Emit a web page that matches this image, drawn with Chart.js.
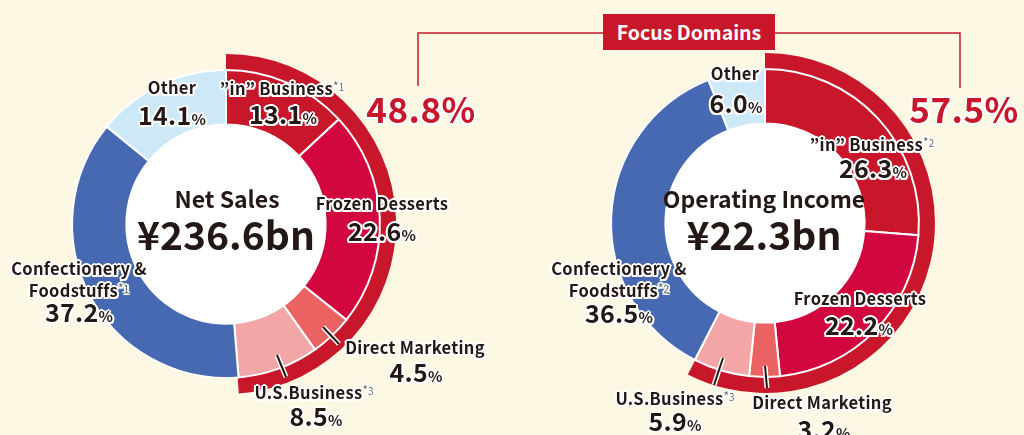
<!DOCTYPE html>
<html>
<head>
<meta charset="utf-8">
<script src="https://cdn.jsdelivr.net/npm/chart.js@4.4.1/dist/chart.umd.min.js"></script>
<style>
  html, body { margin: 0; padding: 0; }
  body { width: 1024px; height: 435px; overflow: hidden; background: #fdf8e3; }
  #stage { position: relative; width: 1024px; height: 435px; font-family: "Noto Sans CJK JP", "Noto Sans", sans-serif; color: #231815; }
  canvas { position: absolute; }
  #salesChart { left: 56px; top: 54px; }
  #incomeChart { left: 595px; top: 53px; }
  svg { position: absolute; left: 0; top: 0; }
  .lbl { position: absolute; white-space: nowrap; text-align: center; font-weight: 700; transform: translateX(-50%);
         letter-spacing: 0.3px;
         text-shadow: 0 0 2px #fff, 2px 0 0 #fff, -2px 0 0 #fff, 0 2px 0 #fff, 0 -2px 0 #fff,
                      1.5px 1.5px 0 #fff, -1.5px 1.5px 0 #fff, 1.5px -1.5px 0 #fff, -1.5px -1.5px 0 #fff; }
  .pct { font-size: 15px; letter-spacing: 0; }
  .note { font-size: 12px; font-weight: 400; color: #666; vertical-align: 4px; letter-spacing: 0; }
  .note small { font-size: 10px; }
  .center { position: absolute; white-space: nowrap; font-weight: 700; transform: translateX(-50%); }
  .focus-box { position: absolute; left: 603px; top: 14px; width: 172px; height: 36px; background: #c8172b;
               color: #fff; font-weight: 700; font-size: 19.5px; line-height: 36px; text-align: center; }
  .focus-pct { color: #c8172b; letter-spacing: 0.5px; }
</style>
</head>
<body>
<div id="stage">
  <canvas id="salesChart" width="340" height="340"></canvas>
  <canvas id="incomeChart" width="340" height="340"></canvas>
  <svg width="1024" height="435">
    <polyline points="418,86 418,33 603,33" fill="none" stroke="#c8172b" stroke-width="1.5"/>
    <polyline points="775,33 960,33 960,88" fill="none" stroke="#c8172b" stroke-width="1.5"/>
  </svg>
  <div class="focus-box">Focus Domains</div>
</div>
<script>
// data
const segmentNames = ['”in” Business', 'Frozen Desserts', 'Direct Marketing', 'U.S.Business', 'Confectionery & Foodstuffs', 'Other'];
const netSalesShare = [13.1, 22.6, 4.5, 8.5, 37.2, 14.1];
const operatingIncomeShare = [26.3, 22.2, 3.2, 5.9, 36.5, 6.0];
const salesNotes = ['1', '', '', '3', '1', ''];
const incomeNotes = ['2', '', '', '3', '2', ''];
const focusSales = 48.8;
const focusIncome = 57.5;
const chartTitles = ['Net Sales', 'Operating Income'];
const chartTotals = ['¥236.6bn', '¥22.3bn'];

// styles
const segmentColors = ['#c8162b', '#d3073f', '#ea6261', '#f2a6a7', '#4669b2', '#cde9f8'];
const focusRed = '#c8172b';

// label placement: [name cx, name glyph top, value cx, value glyph top]
const salesLabelPos = [
  [282, 81, 283, 106],
  [382, 198, 382, 223],
  [415, 342, 416, 364],
  [314, 385, 316, 408],
  [79, 263, 79, 304],
  [172, 82, 172, 107]
];
const incomeLabelPos = [
  [872, 137, 873, 160],
  [860, 293, 859, 317],
  [822, 397, 824, 421],
  [675, 391, 675, 413],
  [619, 263, 619, 305],
  [735, 68, 736, 95]
];

const stage = document.getElementById('stage');
const TOP_OFFSET = 0.2;

function addDiv(cls, html, cx, glyphTop, size, lineH) {
  const d = document.createElement('div');
  d.className = cls;
  d.innerHTML = html;
  d.style.left = cx + 'px';
  d.style.fontSize = size + 'px';
  d.style.lineHeight = (lineH || size) + 'px';
  d.style.top = (glyphTop - TOP_OFFSET * size - ((lineH || size) - size) / 2) + 'px';
  stage.appendChild(d);
  return d;
}

function addLabels(values, notes, pos) {
  values.forEach((v, i) => {
    let name = segmentNames[i];
    if (name.indexOf('& ') > 0) name = name.replace('& ', '&amp;<br>');
    if (notes[i]) name += '<span class="note">*<small>' + notes[i] + '</small></span>';
    const p = pos[i];
    addDiv('lbl', name, p[0], p[1], 16.5, 20);
    addDiv('lbl', v.toFixed(1) + '<span class="pct">%</span>', p[2], p[3], 25);
  });
}

// white hole in the middle of each donut
const whiteCenter = {
  id: 'whiteCenter',
  beforeDatasetsDraw(chart) {
    const arc = chart.getDatasetMeta(1).data[0];
    const ctx = chart.ctx;
    ctx.save();
    ctx.fillStyle = '#ffffff';
    ctx.beginPath();
    ctx.arc(arc.x, arc.y, arc.innerRadius, 0, Math.PI * 2);
    ctx.fill();
    ctx.restore();
  }
};

function makeDonut(id, shares, focus) {
  return new Chart(document.getElementById(id), {
    type: 'doughnut',
    data: {
      labels: segmentNames,
      datasets: [
        {
          data: [focus, 100 - focus],
          backgroundColor: [focusRed, 'rgba(0,0,0,0)'],
          borderWidth: 0,
          weight: 16,
          order: 1
        },
        {
          data: shares,
          backgroundColor: segmentColors,
          borderColor: '#ffffff',
          borderWidth: 2,
          weight: 54,
          order: 0
        }
      ]
    },
    options: {
      responsive: false,
      animation: false,
      cutout: '58.6%',
      radius: '100%',
      layout: { padding: 0 },
      plugins: { legend: { display: false }, tooltip: { enabled: false } }
    },
    plugins: [whiteCenter]
  });
}

makeDonut('salesChart', netSalesShare, focusSales);
makeDonut('incomeChart', operatingIncomeShare, focusIncome);

// leader lines
const svg = document.querySelector('svg');
const leaders = [[323, 327, 339, 344], [277, 355, 286, 377], [723, 358, 714, 385], [765, 366, 767, 388]];
leaders.forEach(l => {
  ['#ffffff', '#231815'].forEach((c, k) => {
    const ln = document.createElementNS('http://www.w3.org/2000/svg', 'line');
    ln.setAttribute('x1', l[0]); ln.setAttribute('y1', l[1]);
    ln.setAttribute('x2', l[2]); ln.setAttribute('y2', l[3]);
    ln.setAttribute('stroke', c);
    ln.setAttribute('stroke-width', k ? 2 : 5);
    svg.appendChild(ln);
  });
});

addLabels(netSalesShare, salesNotes, salesLabelPos);
addLabels(operatingIncomeShare, incomeNotes, incomeLabelPos);

// center titles
addDiv('center', chartTitles[0], 227, 192, 23);
addDiv('center', chartTotals[0], 226, 222, 39);
addDiv('center', chartTitles[1], 764, 192, 23);
addDiv('center', chartTotals[1], 764, 222, 39);

// focus domain shares
addDiv('lbl focus-pct', focusSales.toFixed(1) + '%', 421, 97, 35);
addDiv('lbl focus-pct', focusIncome.toFixed(1) + '%', 964, 97, 35);
</script>
</body>
</html>
